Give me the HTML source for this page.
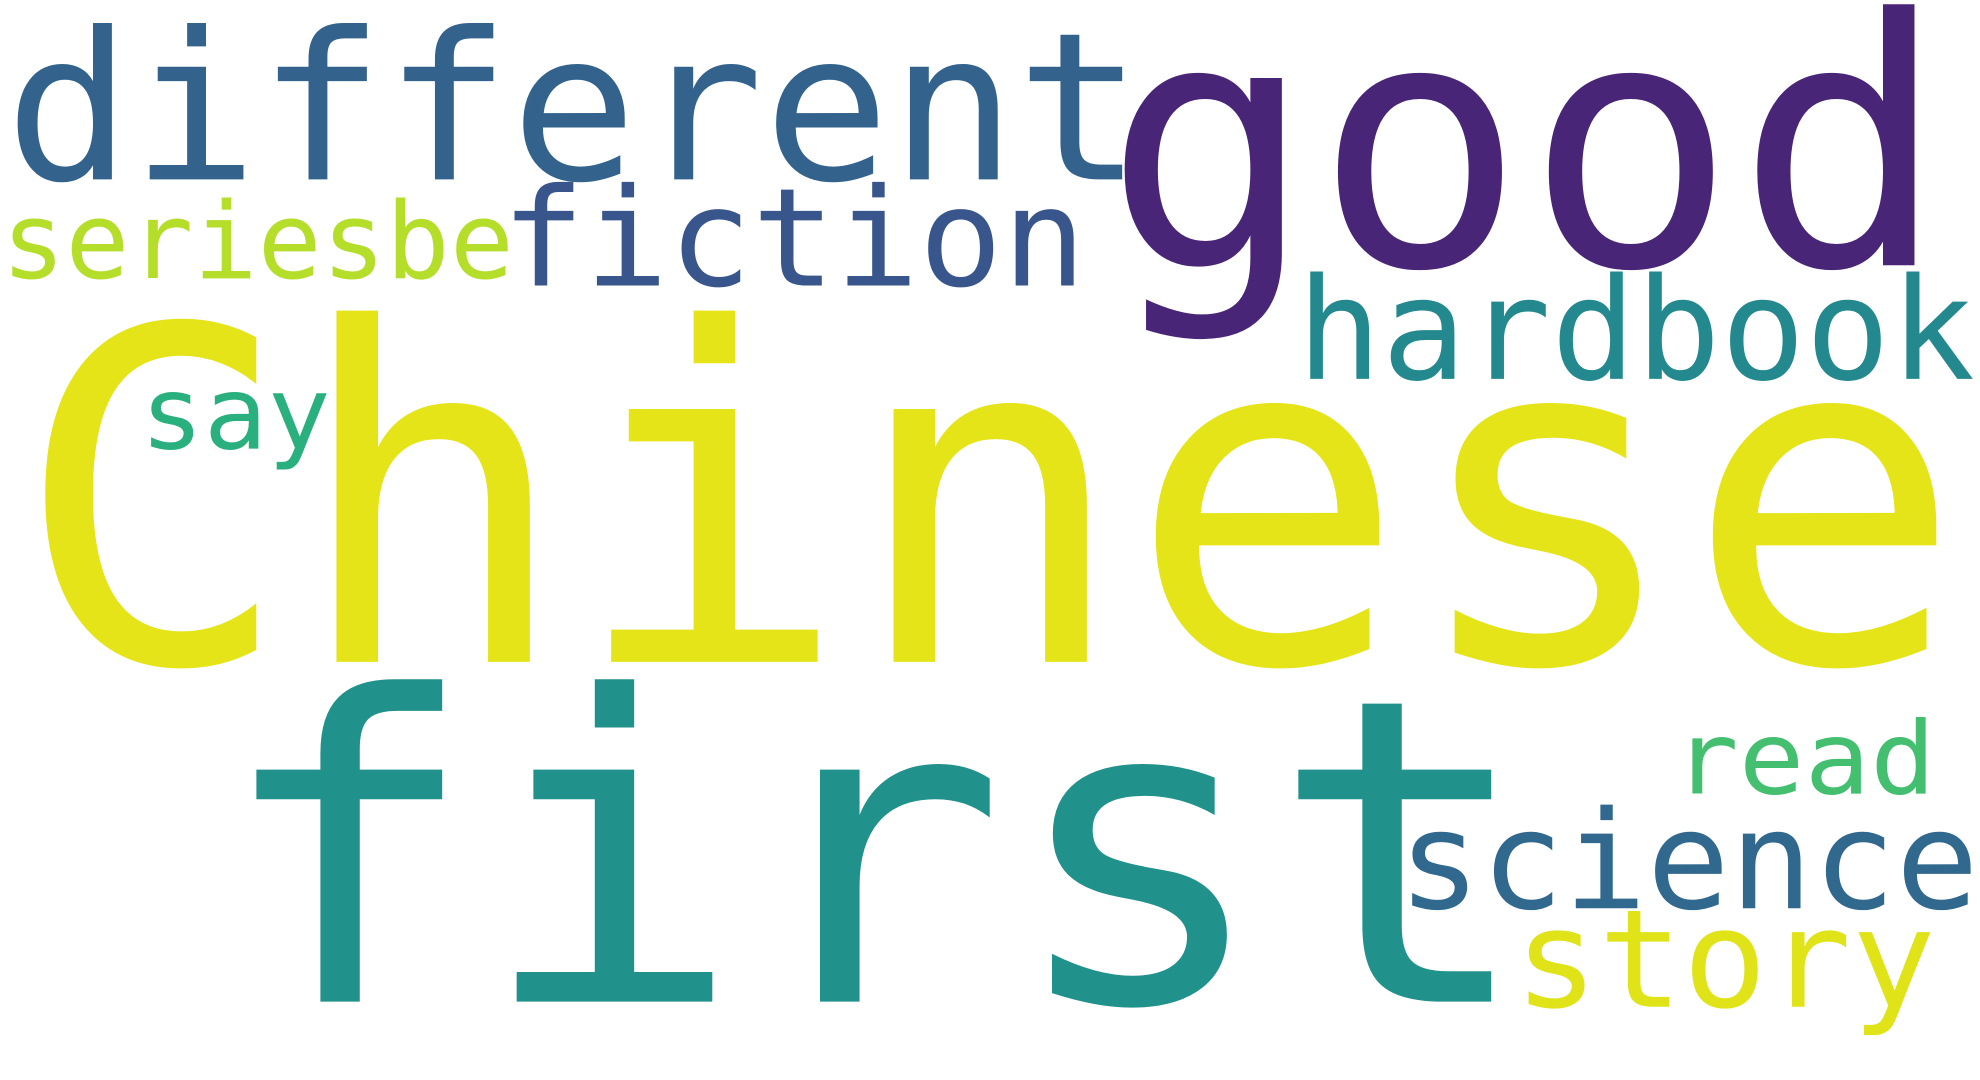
<!DOCTYPE html>
<html>
<head>
<meta charset="utf-8">
<style>
html,body{margin:0;padding:0;background:#fff;}
svg{display:block;}
text{font-family:"DejaVu Sans Mono","Liberation Mono",monospace;}
</style>
</head>
<body>
<svg width="1980" height="1080" viewBox="0 0 1568 855" preserveAspectRatio="none" xmlns="http://www.w3.org/2000/svg">
<rect width="1568" height="855" fill="#ffffff"/>
<text x="4" y="142" font-size="163" fill="#33638d" textLength="901" lengthAdjust="spacingAndGlyphs">different</text>
<text x="874" y="210" font-size="272" fill="#482576" textLength="668" lengthAdjust="spacingAndGlyphs">good</text>
<text x="1" y="220" font-size="84" fill="#b5de2b" textLength="406" lengthAdjust="spacingAndGlyphs">seriesbe</text>
<text x="397" y="226" font-size="108" fill="#39568c" textLength="463" lengthAdjust="spacingAndGlyphs">fiction</text>
<text x="1027" y="300" font-size="112" fill="#23898e" textLength="537" lengthAdjust="spacingAndGlyphs">hardbook</text>
<text x="11" y="524" font-size="366" fill="#e5e419" textLength="1544" lengthAdjust="spacingAndGlyphs">Chinese</text>
<text x="111" y="355" font-size="80" fill="#2ab07f" textLength="151" lengthAdjust="spacingAndGlyphs">say</text>
<text x="170" y="793" font-size="336" fill="#21918c" textLength="1045" lengthAdjust="spacingAndGlyphs">first</text>
<text x="1325" y="628" font-size="80" fill="#44bf70" textLength="208" lengthAdjust="spacingAndGlyphs">read</text>
<text x="1107" y="719" font-size="108" fill="#31688e" textLength="460" lengthAdjust="spacingAndGlyphs">science</text>
<text x="1199" y="797" font-size="108" fill="#dfe318" textLength="334" lengthAdjust="spacingAndGlyphs">story</text>
</svg>
</body>
</html>
